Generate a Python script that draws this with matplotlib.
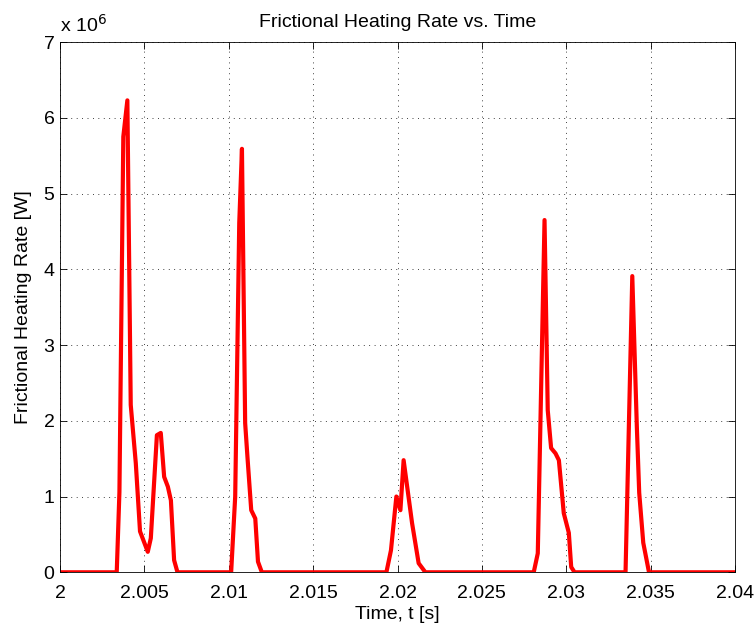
"""
Frictional heating rate against time, MATLAB-style figure.
"""
import matplotlib
matplotlib.use("Agg")
import matplotlib.pyplot as plt
from matplotlib.ticker import FuncFormatter

plt.rcParams['font.family'] = ['Liberation Sans', 'DejaVu Sans']

# time samples [s] and heating rate [W]
time_s = [2.0000, 2.00336, 2.00352, 2.00375, 2.00399, 2.00419, 2.00449, 2.00474,
          2.00520, 2.00538, 2.00574, 2.00597, 2.00617, 2.00639, 2.00657, 2.00676,
          2.00696,
          2.01014, 2.01038, 2.01062, 2.01078, 2.01097, 2.01111, 2.01133, 2.01157,
          2.01173, 2.01196,
          2.01934, 2.01961, 2.01993, 2.02017, 2.02036, 2.02086, 2.02125, 2.02165,
          2.02807, 2.02831, 2.02871, 2.02890, 2.02910, 2.02936, 2.02956, 2.02985,
          2.03015, 2.03029, 2.03049,
          2.03351, 2.03391, 2.03418, 2.03432, 2.03456, 2.03490,
          2.04000]
heat_mw = [0.0, 0.0, 1.06, 5.75, 6.23, 2.21, 1.44, 0.54,
           0.27, 0.45, 1.81, 1.84, 1.26, 1.13, 0.95, 0.16,
           0.0,
           0.0, 1.00, 4.61, 5.59, 1.97, 1.51, 0.82, 0.71,
           0.14, 0.0,
           0.0, 0.29, 1.00, 0.82, 1.48, 0.65, 0.12, 0.0,
           0.0, 0.25, 4.65, 2.14, 1.64, 1.57, 1.48, 0.78,
           0.52, 0.07, 0.0,
           0.0, 3.91, 1.92, 1.05, 0.39, 0.0,
           0.0]
heat_w = [v * 1e6 for v in heat_mw]

x_ticks = [2.0, 2.005, 2.01, 2.015, 2.02, 2.025, 2.03, 2.035, 2.04]
x_tick_labels = ['2', '2.005', '2.01', '2.015', '2.02', '2.025', '2.03', '2.035', '2.04']
y_ticks = [0, 1e6, 2e6, 3e6, 4e6, 5e6, 6e6, 7e6]


def main():
    fig = plt.figure(figsize=(7.56, 6.3), dpi=100)
    ax = fig.add_axes([0.0794, 0.0916, 0.8929, 0.8417])
    ax.plot(time_s, heat_w, color='#ff0000', lw=3, solid_joinstyle='round')

    ax.set_xlim(2.0, 2.04)
    ax.set_ylim(0, 7e6)
    ax.set_xticks(x_ticks)
    ax.set_xticklabels(x_tick_labels)
    ax.set_yticks(y_ticks)
    ax.yaxis.set_major_formatter(FuncFormatter(lambda v, p: '%g' % (v / 1e6)))

    ax.grid(True, color='black', lw=0.6, linestyle=(0, (1, 5.5)))
    ax.tick_params(direction='in', top=True, right=True, length=5, width=0.6,
                   labelsize=14)
    ax.tick_params(axis='x', pad=9)
    ax.tick_params(axis='y', pad=4)
    for s in ax.spines.values():
        s.set_linewidth(0.6)

    ax.set_xlabel('Time, t [s]', fontsize=14, labelpad=3)
    ax.set_ylabel('Frictional Heating Rate [W]', fontsize=14, labelpad=8)
    ax.set_title('Frictional Heating Rate vs. Time', fontsize=14, pad=11)
    ax.annotate(r'x 10$^6$', xy=(0, 1), xycoords='axes fraction',
                xytext=(0, 7), textcoords='offset points', fontsize=14,
                ha='left', va='baseline')

    fig.savefig('out.png', dpi=100)


if __name__ == "__main__":
    main()
